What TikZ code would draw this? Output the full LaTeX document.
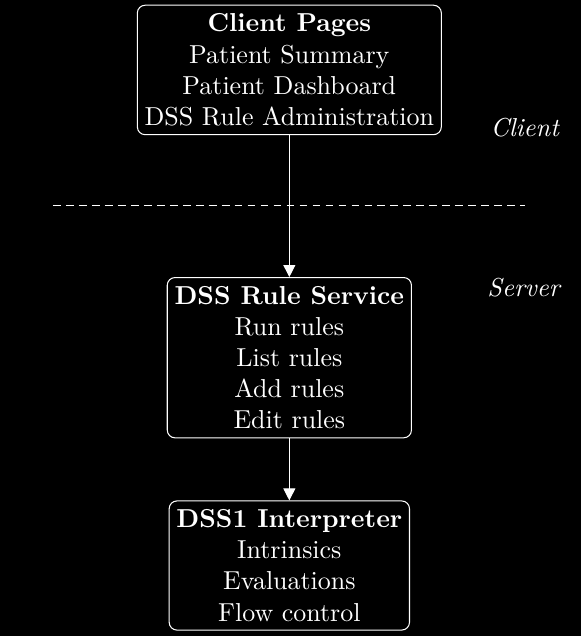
\documentclass[tikz,border=0pt]{standalone}
\usepackage{tikz}
\usetikzlibrary{positioning,arrows.meta}
\tikzset{
  >={Triangle[length=4.6pt,width=4.6pt]},
}
\tikzstyle{layer}=[draw=white,rounded corners=3pt,align=center,text=white,fill=black,inner xsep=2.8pt]
\tikzstyle{link}=[->,white]
\tikzstyle{side}=[text=white,font=\itshape]

\begin{document}
\begin{tikzpicture}
  \fill[black] (0,0) rectangle (7.86,-8.61);
  \useasboundingbox (0,0) rectangle (7.86,-8.61);
  \node[layer] (pages) at (3.917,-0.947) {\textbf{Client Pages}\\Patient Summary\\Patient Dashboard\\DSS Rule Administration};
  \node[layer,below=1.92cm of pages] (service) {\textbf{DSS Rule Service}\\Run rules\\List rules\\Add rules\\Edit rules};
  \node[layer,below=0.84cm of service] (interp) {\textbf{DSS1 Interpreter}\\Intrinsics\\Evaluations\\Flow control};
  \draw[link] (pages) -- (service);
  \draw[link] (service) -- (interp);
  % client / server split
  \coordinate (splitL) at (0.717,-2.787);
  \coordinate (splitR) at (7.103,-2.787);
  \draw[white,densely dashed] (splitL) -- (splitR);
  \node[side] (client) at (7.103,-1.732) {Client};
  \node[side] (server) at (7.089,-3.896) {Server};
\end{tikzpicture}
\end{document}
